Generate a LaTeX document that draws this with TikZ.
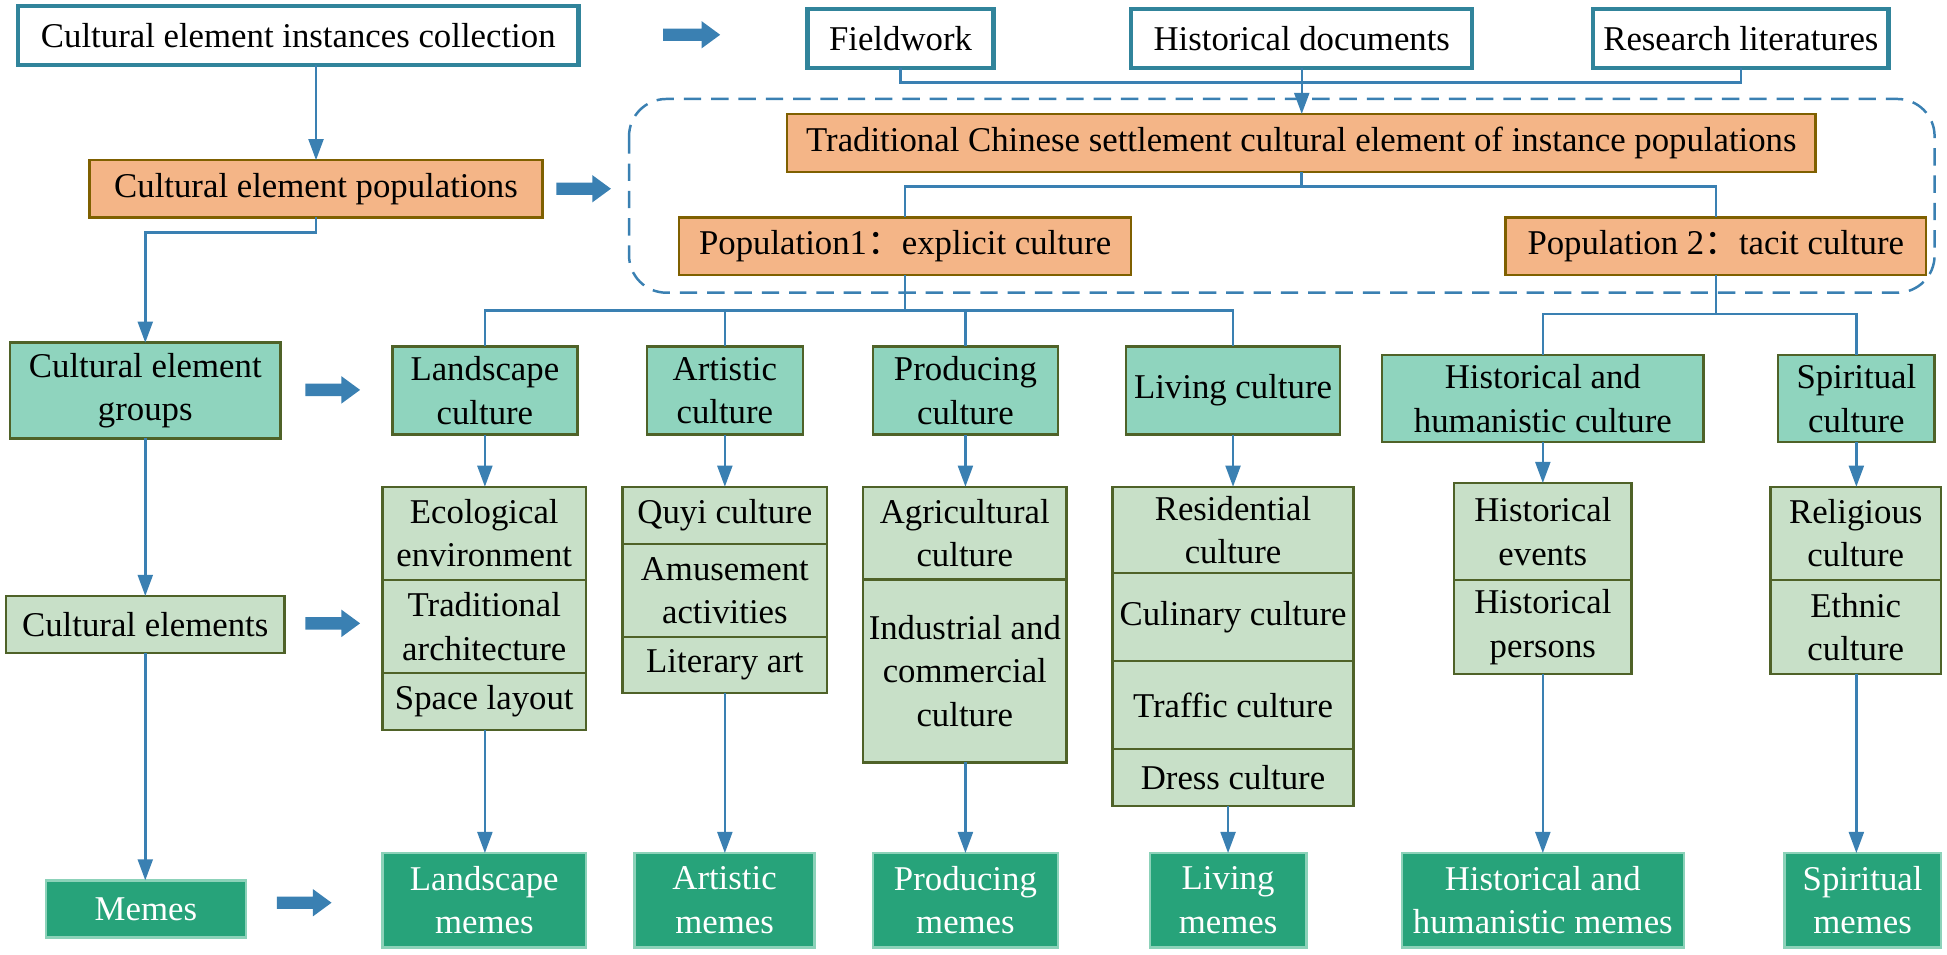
\documentclass[tikz,border=0pt]{standalone}
\usepackage{fontspec}
\setmainfont{Liberation Serif}
\newfontfamily\cjk{Noto Sans CJK SC}
\usetikzlibrary{arrows.meta}
\definecolor{conn}{RGB}{58,128,178}
\definecolor{tealb}{RGB}{49,132,155}
\definecolor{orfill}{RGB}{244,181,135}
\definecolor{orbord}{RGB}{127,96,0}
\definecolor{grfill}{RGB}{143,212,190}
\definecolor{olive}{RGB}{79,98,40}
\definecolor{elfill}{RGB}{200,224,200}
\definecolor{mmfill}{RGB}{39,163,122}
\definecolor{mmbord}{RGB}{140,210,185}
\newcommand\bx[7]{\node[#2, minimum width={(#5)-(#3)}, minimum height={(#6)-(#4)}] (#1) at ({((#3)+(#5))/2},{((#4)+(#6))/2}) {#7};}
\newcommand\fatarr[3]{\fill[conn] (#1,#2) ++(0,-5) -- ++({#3-15},0) -- ++(0,-6) -- ++(15,11) -- ++(-15,11) -- ++(0,-6) -- ++({-(#3-15)},0) -- cycle;}
\tikzset{
  base/.style={draw, inner sep=0pt, outer sep=0pt, align=center, font=\fontsize{28}{35}\selectfont, text=black},
  topbox/.style={base, fill=white, draw=tealb, line width=3.5pt},
  orbox/.style={base, fill=orfill, draw=orbord, line width=2pt},
  grbox/.style={base, fill=grfill, draw=olive, line width=2pt},
  elbox/.style={base, fill=elfill, draw=olive, line width=2pt},
  mmbox/.style={base, fill=mmfill, draw=mmbord, line width=2pt, text=white},
  line/.style={draw=conn, line width=2pt},
  arr/.style={line, -{Triangle[length=17pt,width=12pt]}},
  frame/.style={draw=conn, line width=2pt, dash pattern=on 14pt off 8pt, rounded corners=30pt}
}
\begin{document}
\begin{tikzpicture}[x=1pt,y=-1pt]
\useasboundingbox (0,0) rectangle (1568,768.3);
% dashed frame
\draw[frame] (506.6,79.7) rectangle (1558,235.7);
% top row
\bx{coll}{topbox}{14.4}{5}{466}{52.3}{Cultural element instances collection}
\bx{field}{topbox}{650.4}{7.5}{800}{55}{Fieldwork}
\bx{hdoc}{topbox}{911}{7.5}{1185.7}{55}{Historical documents}
\bx{resl}{topbox}{1283}{7.5}{1521}{55}{Research literatures}
\bx{trad}{orbox}{634}{91.8}{1462}{138.4}{Traditional Chinese settlement cultural element of instance populations}
\bx{popa}{orbox}{547}{175}{911}{221.5}{Population1{\cjk ：}explicit culture}
\bx{popb}{orbox}{1212.6}{175}{1551}{221.5}{Population 2{\cjk ：}tacit culture}
% left column
\bx{pops}{orbox}{72}{129}{437}{175}{Cultural element populations}
\bx{groups}{grbox}{8}{276}{226}{353}{Cultural element\\groups}
\bx{celem}{elbox}{5}{480}{229}{526}{Cultural elements}
\bx{memes}{mmbox}{37}{709}{198}{755}{Memes}
% group row
\bx{land}{grbox}{316}{279}{465}{350}{Landscape\\culture}
\bx{art}{grbox}{521}{279}{646.5}{350}{Artistic\\culture}
\bx{prod}{grbox}{703}{279}{852}{350}{Producing\\culture}
\bx{liv}{grbox}{907}{279}{1079}{350}{Living culture}
\bx{hh}{grbox}{1113}{286}{1372}{356}{Historical and\\humanistic culture}
\bx{spir}{grbox}{1432}{286}{1558}{356}{Spiritual\\culture}
% element boxes
\bx{lea}{elbox}{308}{392}{472}{467}{Ecological\\environment}
\bx{leb}{elbox}{308}{467}{472}{542}{Traditional\\architecture}
\bx{lec}{elbox}{308}{542}{472}{588}{Space layout}
\bx{aea}{elbox}{501.5}{392}{666}{438}{Quyi culture}
\bx{aeb}{elbox}{501.5}{438}{666}{513}{Amusement\\activities}
\bx{aec}{elbox}{501.5}{513}{666}{558}{Literary art}
\bx{pea}{elbox}{695}{392}{859}{466.5}{Agricultural\\culture}
\bx{peb}{elbox}{695}{466.5}{859}{614}{Industrial and\\commercial\\culture}
\bx{vea}{elbox}{896}{392}{1090}{461.6}{Residential\\culture}
\bx{veb}{elbox}{896}{461.6}{1090}{532.5}{Culinary culture}
\bx{vec}{elbox}{896}{532.5}{1090}{603}{Traffic culture}
\bx{ved}{elbox}{896}{603}{1090}{649}{Dress culture}
\bx{hea}{elbox}{1171}{389}{1314}{467}{Historical\\events}
\bx{heb}{elbox}{1171}{467}{1314}{543}{Historical\\persons}
\bx{sea}{elbox}{1426}{392}{1563}{467}{Religious\\culture}
\bx{seb}{elbox}{1426}{467}{1563}{543}{Ethnic\\culture}
% memes row
\bx{lm}{mmbox}{308}{687}{472}{763}{Landscape\\memes}
\bx{am}{mmbox}{511}{687}{656}{763}{Artistic\\memes}
\bx{pm}{mmbox}{703}{687}{852}{763}{Producing\\memes}
\bx{vm}{mmbox}{926}{687}{1052}{763}{Living\\memes}
\bx{hm}{mmbox}{1129}{687}{1356}{763}{Historical and\\humanistic memes}
\bx{sm}{mmbox}{1437}{687}{1563}{763}{Spiritual\\memes}
% fat arrows
\fatarr{534}{28}{46}
\fatarr{448}{152}{44}
\fatarr{246}{314}{44}
\fatarr{246}{502}{44}
\fatarr{223}{727}{44}
% connectors top
\draw[line] (field.south) -- ++(0,11.6) -| (resl.south);
\draw[arr] (hdoc.south) -- (hdoc.south |- trad.north);
\coordinate (tj) at (1048,150.3);
\draw[line] (trad.south) -- (tj);
\draw[line] (popa.north) |- (tj) -| (popb.north);
% left column connectors
\draw[arr] (pops.north |- coll.south) -- (pops.north);
\draw[arr] (pops.south) -- ++(0,12.4) -| (groups.north);
\draw[arr] (groups.south) -- (groups.south |- celem.north);
\draw[arr] (groups.south |- celem.south) -- (groups.south |- memes.north);
% fan from population 1
\coordinate (ja) at (729,250);
\draw[line] (popa.south) -- (ja);
\draw[line] (land.north) |- (ja) -| (liv.north);
\draw[line] (art.north) -- (art.north |- ja);
\draw[line] (prod.north) -- (prod.north |- ja);
% fan from population 2
\coordinate (jb) at (1381.8,253);
\draw[line] (popb.south) -- (jb);
\draw[line] (hh.north) |- (jb) -| (spir.north);
% groups to elements
\draw[arr] (land.south) -- (land.south |- lea.north);
\draw[arr] (art.south) -- (art.south |- aea.north);
\draw[arr] (prod.south) -- (prod.south |- pea.north);
\draw[arr] (liv.south) -- (liv.south |- vea.north);
\draw[arr] (hh.south) -- (hh.south |- hea.north);
\draw[arr] (spir.south) -- (spir.south |- sea.north);
% elements to memes
\draw[arr] (land.south |- lec.south) -- (land.south |- lm.north);
\draw[arr] (art.south |- aec.south) -- (art.south |- am.north);
\draw[arr] (prod.south |- peb.south) -- (prod.south |- pm.north);
\draw[arr] (vm.north |- ved.south) -- (vm.north);
\draw[arr] (hh.south |- heb.south) -- (hh.south |- hm.north);
\draw[arr] (spir.south |- seb.south) -- (spir.south |- sm.north);
\end{tikzpicture}
\end{document}
